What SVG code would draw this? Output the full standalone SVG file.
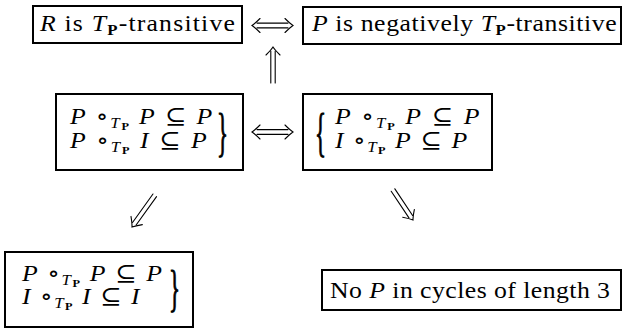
<svg xmlns="http://www.w3.org/2000/svg" width="623" height="328" viewBox="0 0 623 328">
<style>
.box{fill:#fff;stroke:#000;stroke-width:2}
text{font-family:'Liberation Serif','DejaVu Serif',serif;font-size:23px;fill:#000}
.i{font-style:italic}
.b{font-weight:bold}
.br{stroke:#000;stroke-width:0.5}
.arr{fill:none;stroke:#000;stroke-width:1.1;stroke-linecap:round}
</style>
<defs>
<g id="head"><path d="M-8,-7 Q-3,-2 0,0 Q-3,2 -8,7" class="arr"/></g>
</defs>
<g id="n1">
<rect class="box" x="33" y="6" width="209" height="37"/>
<text transform="translate(40,31) scale(1.12,1)" textLength="174" lengthAdjust="spacing"><tspan class="i">R</tspan> is <tspan class="i">T</tspan><tspan class="b" font-size="15" dy="4">P</tspan><tspan dy="-4">-transitive</tspan></text>
</g>
<g id="n2">
<rect class="box" x="303" y="7" width="318" height="37"/>
<text transform="translate(312,31) scale(1.12,1)" textLength="272" lengthAdjust="spacing"><tspan class="i">P</tspan> is negatively <tspan class="i">T</tspan><tspan class="b" font-size="15" dy="4">P</tspan><tspan dy="-4">-transitive</tspan></text>
</g>
<g id="n3">
<rect class="box" x="56" y="94" width="187" height="76"/>
<text transform="translate(70,124) scale(1.12,1)" textLength="127" lengthAdjust="spacing"><tspan class="i">P</tspan> ∘<tspan class="i" font-size="15" dy="4">T</tspan><tspan class="b" font-size="11" dy="2">P</tspan><tspan dy="-6"> </tspan><tspan class="i">P</tspan> ⊆ <tspan class="i">P</tspan></text>
<text transform="translate(70,148) scale(1.12,1)" textLength="122" lengthAdjust="spacing"><tspan class="i">P</tspan> ∘<tspan class="i" font-size="15" dy="4">T</tspan><tspan class="b" font-size="11" dy="2">P</tspan><tspan dy="-6"> </tspan><tspan class="i">I</tspan> ⊆ <tspan class="i">P</tspan></text>
<text class="br" x="217" y="0" font-size="30" transform="translate(0,150) scale(1,2.3)">}</text>
</g>
<g id="n4">
<rect class="box" x="303" y="94" width="189" height="76"/>
<text class="br" x="315" y="0" font-size="30" transform="translate(0,150) scale(1,2.3)">{</text>
<text transform="translate(335,124) scale(1.12,1)" textLength="129" lengthAdjust="spacing"><tspan class="i">P</tspan> ∘<tspan class="i" font-size="15" dy="4">T</tspan><tspan class="b" font-size="11" dy="2">P</tspan><tspan dy="-6"> </tspan><tspan class="i">P</tspan> ⊆ <tspan class="i">P</tspan></text>
<text transform="translate(335,148) scale(1.12,1)" textLength="118" lengthAdjust="spacing"><tspan class="i">I</tspan> ∘<tspan class="i" font-size="15" dy="4">T</tspan><tspan class="b" font-size="11" dy="2">P</tspan><tspan dy="-6"> </tspan><tspan class="i">P</tspan> ⊆ <tspan class="i">P</tspan></text>
</g>
<g id="n5">
<rect class="box" x="5" y="252" width="188" height="75"/>
<text transform="translate(22,281) scale(1.12,1)" textLength="125" lengthAdjust="spacing"><tspan class="i">P</tspan> ∘<tspan class="i" font-size="15" dy="4">T</tspan><tspan class="b" font-size="11" dy="2">P</tspan><tspan dy="-6"> </tspan><tspan class="i">P</tspan> ⊆ <tspan class="i">P</tspan></text>
<text transform="translate(22,304) scale(1.12,1)" textLength="105" lengthAdjust="spacing"><tspan class="i">I</tspan> ∘<tspan class="i" font-size="15" dy="4">T</tspan><tspan class="b" font-size="11" dy="2">P</tspan><tspan dy="-6"> </tspan><tspan class="i">I</tspan> ⊆ <tspan class="i">I</tspan></text>
<text class="br" x="169" y="0" font-size="30" transform="translate(0,305) scale(1,2.2)">}</text>
</g>
<g id="n6">
<rect class="box" x="322" y="270" width="299" height="40"/>
<text transform="translate(330,298) scale(1.12,1)" textLength="250" lengthAdjust="spacing">No <tspan class="i">P</tspan> in cycles of length 3</text>
</g>
<g id="connectors">
<g transform="translate(252,25.5)">
<path class="arr" d="M5,-2.4 H36 M5,2.4 H36"/>
<use href="#head" transform="rotate(180)"/>
<use href="#head" transform="translate(41,0)"/>
</g>
<g transform="translate(252,132)">
<path class="arr" d="M5,-2.4 H36 M5,2.4 H36"/>
<use href="#head" transform="rotate(180)"/>
<use href="#head" transform="translate(41,0)"/>
</g>
<g transform="translate(273,47) rotate(-90)">
<path class="arr" d="M-36,-2.2 H-4 M-36,2.2 H-4"/>
<use href="#head"/>
</g>
<g transform="translate(132,227) rotate(125.7)">
<path class="arr" d="M-39,-2.2 H-4 M-39,2.2 H-4"/>
<use href="#head"/>
</g>
<g transform="translate(413,220) rotate(56.3)">
<path class="arr" d="M-36,-2.2 H-4 M-36,2.2 H-4"/>
<use href="#head"/>
</g>
</g>
</svg>
